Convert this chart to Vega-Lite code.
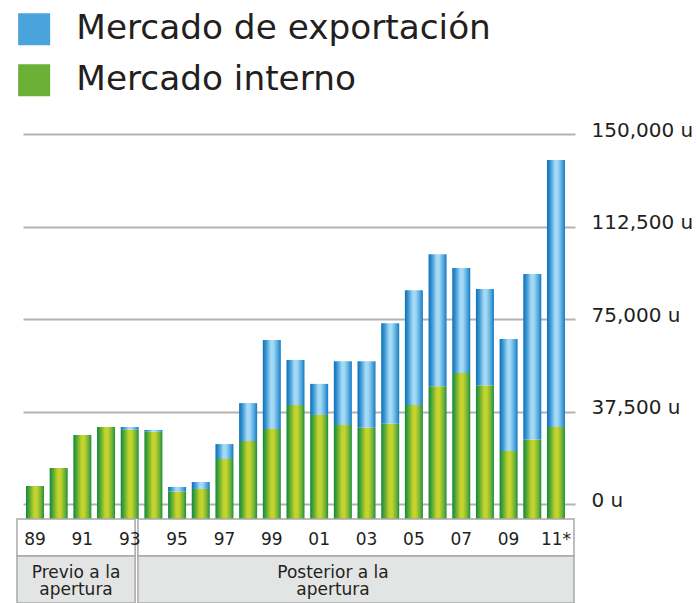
{
  "$schema": "https://vega.github.io/schema/vega-lite/v6.json",
  "autosize": {"type": "pad"},
  "padding": {"left": 16, "top": 12, "right": 0, "bottom": 0},
  "background": "white",
  "spacing": 0,
  "bounds": "flush",
  "config": {
    "view": {"stroke": null},
    "font": "DejaVu Sans",
    "legend": {
      "title": null,
      "orient": "none",
      "legendX": -6,
      "legendY": -122,
      "direction": "vertical",
      "symbolType": "square",
      "symbolSize": 1024,
      "symbolStrokeWidth": 0,
      "labelFontSize": 34.3,
      "labelFont": "DejaVu Sans",
      "labelColor": "#231f20",
      "labelOffset": 25,
      "rowPadding": 16,
      "labelLimit": 0
    }
  },
  "datasets": {
    "ventas": [
      {"year": "89", "series": "Mercado interno", "value": 7300},
      {"year": "90", "series": "Mercado interno", "value": 14600},
      {"year": "91", "series": "Mercado interno", "value": 28000},
      {"year": "92", "series": "Mercado interno", "value": 31200},
      {"year": "93", "series": "Mercado interno", "value": 30100},
      {"year": "93", "series": "Mercado de exportación", "value": 1100},
      {"year": "94", "series": "Mercado interno", "value": 29300},
      {"year": "94", "series": "Mercado de exportación", "value": 700},
      {"year": "95", "series": "Mercado interno", "value": 5000},
      {"year": "95", "series": "Mercado de exportación", "value": 1900},
      {"year": "96", "series": "Mercado interno", "value": 6100},
      {"year": "96", "series": "Mercado de exportación", "value": 2800},
      {"year": "97", "series": "Mercado interno", "value": 18200},
      {"year": "97", "series": "Mercado de exportación", "value": 6100},
      {"year": "98", "series": "Mercado interno", "value": 25500},
      {"year": "98", "series": "Mercado de exportación", "value": 15400},
      {"year": "99", "series": "Mercado interno", "value": 30400},
      {"year": "99", "series": "Mercado de exportación", "value": 36100},
      {"year": "00", "series": "Mercado interno", "value": 40100},
      {"year": "00", "series": "Mercado de exportación", "value": 18300},
      {"year": "01", "series": "Mercado interno", "value": 36100},
      {"year": "01", "series": "Mercado de exportación", "value": 12600},
      {"year": "02", "series": "Mercado interno", "value": 32000},
      {"year": "02", "series": "Mercado de exportación", "value": 25900},
      {"year": "03", "series": "Mercado interno", "value": 30900},
      {"year": "03", "series": "Mercado de exportación", "value": 27000},
      {"year": "04", "series": "Mercado interno", "value": 32500},
      {"year": "04", "series": "Mercado de exportación", "value": 40800},
      {"year": "05", "series": "Mercado interno", "value": 40100},
      {"year": "05", "series": "Mercado de exportación", "value": 46600},
      {"year": "06", "series": "Mercado interno", "value": 47700},
      {"year": "06", "series": "Mercado de exportación", "value": 53600},
      {"year": "07", "series": "Mercado interno", "value": 53100},
      {"year": "07", "series": "Mercado de exportación", "value": 42600},
      {"year": "08", "series": "Mercado interno", "value": 48000},
      {"year": "08", "series": "Mercado de exportación", "value": 39200},
      {"year": "09", "series": "Mercado interno", "value": 21500},
      {"year": "09", "series": "Mercado de exportación", "value": 45400},
      {"year": "10", "series": "Mercado interno", "value": 26100},
      {"year": "10", "series": "Mercado de exportación", "value": 67100},
      {"year": "11*", "series": "Mercado interno", "value": 31200},
      {"year": "11*", "series": "Mercado de exportación", "value": 108300}
    ],
    "periodos": [
      {"group": "Previo a la apertura", "label": "Previo a la\napertura", "first": "89", "last": "93"},
      {"group": "Posterior a la apertura", "label": "Posterior a la\napertura", "first": "94", "last": "11*"}
    ],
    "etiquetas": [
      {"year": "89"}, {"year": "91"}, {"year": "93"}, {"year": "95"}, {"year": "97"}, {"year": "99"},
      {"year": "01"}, {"year": "03"}, {"year": "05"}, {"year": "07"}, {"year": "09"}, {"year": "11*"}
    ]
  },
  "vconcat": [
    {
      "width": 552,
      "height": 385,
      "data": {"name": "ventas"},
      "transform": [
        {"stack": "value", "groupby": ["year"], "sort": [{"field": "series", "order": "descending"}], "as": ["v0", "v1"]}
      ],
      "encoding": {
        "x": {
          "field": "year", "type": "ordinal", "sort": null, "axis": null,
          "scale": {"domain": ["89","90","91","92","93","94","95","96","97","98","99","00","01","02","03","04","05","06","07","08","09","10","11*"], "paddingInner": 0.24, "paddingOuter": 0.275, "align": 0.23}
        }
      },
      "layer": [
        {
          "transform": [{"filter": "datum.series === 'Mercado interno'"}],
          "mark": {"type": "bar", "fill": {"gradient": "linear", "x1": 0, "y1": 0, "x2": 1, "y2": 0, "stops": [
                {"offset": 0, "color": "#0d8a3c"}, {"offset": 0.2, "color": "#5aa935"}, {"offset": 0.45, "color": "#c3d32c"},
                {"offset": 0.6, "color": "#c6d42d"}, {"offset": 0.85, "color": "#6cb037"}, {"offset": 1, "color": "#17903b"}]}},
          "encoding": {
            "y": {
              "field": "v1", "type": "quantitative",
              "scale": {"domain": [-6080, 150000], "nice": false, "zero": false},
              "axis": {
                "orient": "right", "values": [0, 37500, 75000, 112500, 150000], "grid": true,
                "gridColor": "#b2b2b2", "gridWidth": 2, "domain": false, "ticks": false,
                "labelPadding": 16, "labelFontSize": 20, "labelColor": "#231f20", "labelFont": "DejaVu Sans",
                "labelExpr": "format(datum.value, ',') + ' u'", "title": null, "labelOffset": -4
              }
            },
            "y2": {"datum": -6080}
          }
        },
        {
          "transform": [{"filter": "datum.series === 'Mercado de exportación'"}],
          "mark": {"type": "bar", "fill": {"gradient": "linear", "x1": 0, "y1": 0, "x2": 1, "y2": 0, "stops": [
                {"offset": 0, "color": "#0b6fb5"}, {"offset": 0.2, "color": "#3f99d7"}, {"offset": 0.45, "color": "#a6dbf5"},
                {"offset": 0.6, "color": "#a0d7f3"}, {"offset": 0.85, "color": "#4aa3dc"}, {"offset": 1, "color": "#1579bf"}]}},
          "encoding": {
            "y": {"field": "v1", "type": "quantitative"},
            "y2": {"field": "v0"}
          }
        },
        {
          "transform": [{"filter": "false"}],
          "mark": {"type": "bar"},
          "encoding": {
            "y": {"field": "v1", "type": "quantitative"},
            "y2": {"field": "v0"},
            "color": {
              "field": "series", "type": "nominal",
              "scale": {"domain": ["Mercado de exportación", "Mercado interno"], "range": ["#4aa3dc", "#6cb037"]},
              "legend": {
                "encoding": {
                  "symbols": {
                    "fill": {"signal": "datum.value === 'Mercado interno' ? {gradient: 'linear', x1: 0, y1: 0, x2: 1, y2: 0, stops: [{offset: 0, color: '#0d8a3c'}, {offset: 0.2, color: '#5aa935'}, {offset: 0.45, color: '#c3d32c'}, {offset: 0.6, color: '#c6d42d'}, {offset: 0.85, color: '#6cb037'}, {offset: 1, color: '#17903b'}]} : {gradient: 'linear', x1: 0, y1: 0, x2: 1, y2: 0, stops: [{offset: 0, color: '#0b6fb5'}, {offset: 0.2, color: '#3f99d7'}, {offset: 0.45, color: '#a6dbf5'}, {offset: 0.6, color: '#a0d7f3'}, {offset: 0.85, color: '#4aa3dc'}, {offset: 1, color: '#1579bf'}]}"}
                  }
                }
              }
            }
          }
        }
      ]
    },
    {
      "width": 552,
      "height": 37,
      "layer": [
        {
          "data": {"name": "periodos"},
          "transform": [{"filter": "datum.group === 'Previo a la apertura'"}],
          "mark": {"type": "rect", "fill": "white", "stroke": "#a8a8a8", "strokeWidth": 1.5},
          "encoding": {
            "x": {"field": "first", "type": "ordinal", "bandPosition": -0.5, "axis": null,
              "scale": {"domain": ["89","90","91","92","93","94","95","96","97","98","99","00","01","02","03","04","05","06","07","08","09","10","11*"], "paddingInner": 0.24, "paddingOuter": 0.275, "align": 0.23}},
            "x2": {"field": "last", "bandPosition": 0.8}
          }
        },
        {
          "data": {"name": "periodos"},
          "transform": [{"filter": "datum.group === 'Posterior a la apertura'"}],
          "mark": {"type": "rect", "fill": "white", "stroke": "#a8a8a8", "strokeWidth": 1.5},
          "encoding": {
            "x": {"field": "first", "type": "ordinal", "bandPosition": -0.36},
            "x2": {"field": "last", "bandPosition": 1.5}
          }
        },
        {
          "data": {"name": "etiquetas"},
          "mark": {"type": "text", "fontSize": 17, "color": "#231f20", "baseline": "middle", "align": "center", "dy": 2},
          "encoding": {
            "x": {"field": "year", "type": "ordinal"},
            "text": {"field": "year"}
          }
        }
      ]
    },
    {
      "width": 552,
      "height": 47,
      "data": {"name": "periodos"},
      "layer": [
        {
          "transform": [{"filter": "datum.group === 'Previo a la apertura'"}],
          "layer": [
            {
              "mark": {"type": "rect", "fill": "#e3e4e4", "stroke": "#a8a8a8", "strokeWidth": 1.5},
              "encoding": {
                "x": {"field": "first", "type": "ordinal", "bandPosition": -0.5, "axis": null,
                  "scale": {"domain": ["89","90","91","92","93","94","95","96","97","98","99","00","01","02","03","04","05","06","07","08","09","10","11*"], "paddingInner": 0.24, "paddingOuter": 0.275, "align": 0.23}},
                "x2": {"field": "last", "bandPosition": 0.8}
              }
            },
            {
              "mark": {"type": "text", "fontSize": 17, "color": "#231f20", "baseline": "middle", "align": "center", "lineBreak": "\n", "lineHeight": 17, "dy": -7},
              "encoding": {
                "x": {"field": "first", "type": "ordinal", "bandPosition": 2.78},
                "text": {"field": "label"}
              }
            }
          ]
        },
        {
          "transform": [{"filter": "datum.group === 'Posterior a la apertura'"}],
          "layer": [
            {
              "mark": {"type": "rect", "fill": "#e3e4e4", "stroke": "#a8a8a8", "strokeWidth": 1.5},
              "encoding": {
                "x": {"field": "first", "type": "ordinal", "bandPosition": -0.36},
                "x2": {"field": "last", "bandPosition": 1.5}
              }
            },
            {
              "mark": {"type": "text", "fontSize": 17, "color": "#231f20", "baseline": "middle", "align": "center", "lineBreak": "\n", "lineHeight": 17, "dy": -7},
              "encoding": {
                "x": {"field": "first", "type": "ordinal", "bandPosition": 10.48},
                "text": {"field": "label"}
              }
            }
          ]
        }
      ]
    }
  ]
}
